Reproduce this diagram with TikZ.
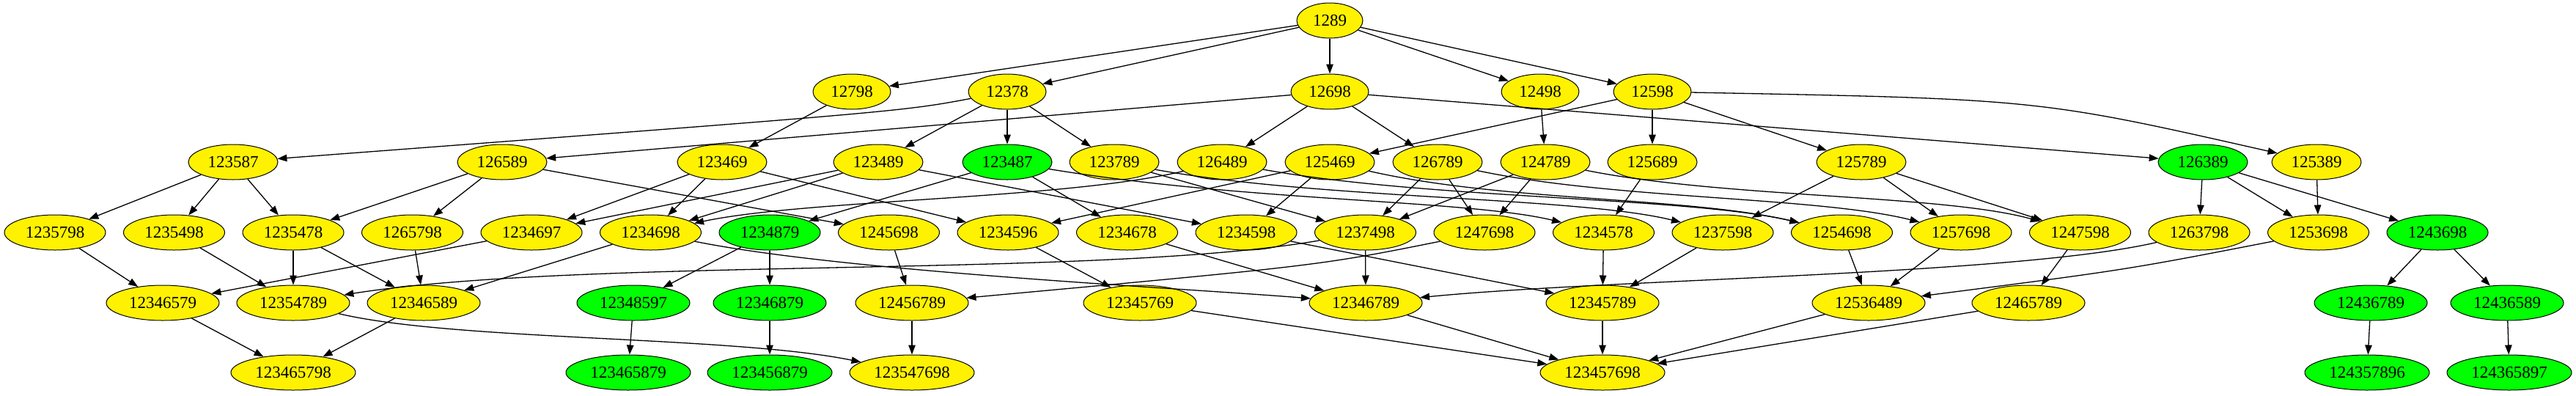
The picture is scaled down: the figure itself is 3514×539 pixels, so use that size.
\documentclass[tikz,border=0pt]{standalone}
\usepackage{fontspec}
\setmainfont{Liberation Serif}
\usetikzlibrary{shapes.geometric,arrows.meta}
\begin{document}
\begin{tikzpicture}[x=1pt,y=1pt,
  nd/.style={ellipse,draw=black,line width=1pt,inner sep=0pt,minimum height=48pt,font=\fontsize{23}{24}\selectfont},
  yl/.style={nd,fill=yellow},
  gr/.style={nd,fill=green},
  wd4/.style={minimum width=90pt},
  wd5/.style={minimum width=106pt},
  wd6/.style={minimum width=122pt},
  wd7/.style={minimum width=138pt},
  wd8/.style={minimum width=154pt},
  wd9/.style={minimum width=170pt},
  edge/.style={draw=black,line width=1.3pt,-{Triangle[length=13pt,width=9.5pt]}}]
\useasboundingbox (0,0) rectangle (3514,-539);
% row 0
\node[yl,wd4] (n1289) at (1814,-28) {1289};
% row 1
\node[yl,wd5] (n12798) at (1162,-125) {12798};
\node[yl,wd5] (n12378) at (1374,-125) {12378};
\node[yl,wd5] (n12698) at (1814,-125) {12698};
\node[yl,wd5] (n12498) at (2101,-125) {12498};
\node[yl,wd5] (n12598) at (2254,-125) {12598};
% row 2
\node[yl,wd6] (n123587) at (318,-221) {123587};
\node[yl,wd6] (n126589) at (685,-221) {126589};
\node[yl,wd6] (n123469) at (985,-221) {123469};
\node[yl,wd6] (n123489) at (1198,-221) {123489};
\node[gr,wd6] (n123487) at (1374,-221) {123487};
\node[yl,wd6] (n123789) at (1520,-221) {123789};
\node[yl,wd6] (n126489) at (1667,-221) {126489};
\node[yl,wd6] (n125469) at (1814,-221) {125469};
\node[yl,wd6] (n126789) at (1961,-221) {126789};
\node[yl,wd6] (n124789) at (2108,-221) {124789};
\node[yl,wd6] (n125689) at (2254,-221) {125689};
\node[yl,wd6] (n125789) at (2539,-221) {125789};
\node[gr,wd6] (n126389) at (3005,-221) {126389};
\node[yl,wd6] (n125389) at (3160,-221) {125389};
% row 3
\node[yl,wd7] (n1235798) at (75,-317) {1235798};
\node[yl,wd7] (n1235498) at (237.5,-317) {1235498};
\node[yl,wd7] (n1235478) at (400,-317) {1235478};
\node[yl,wd7] (n1265798) at (562.5,-317) {1265798};
\node[yl,wd7] (n1234697) at (725,-317) {1234697};
\node[yl,wd7] (n1234698) at (887.5,-317) {1234698};
\node[gr,wd7] (n1234879) at (1050,-317) {1234879};
\node[yl,wd7] (n1245698) at (1212.5,-317) {1245698};
\node[yl,wd7] (n1234596) at (1375,-317) {1234596};
\node[yl,wd7] (n1234678) at (1537.5,-317) {1234678};
\node[yl,wd7] (n1234598) at (1700,-317) {1234598};
\node[yl,wd7] (n1237498) at (1862.5,-317) {1237498};
\node[yl,wd7] (n1247698) at (2025,-317) {1247698};
\node[yl,wd7] (n1234578) at (2187.5,-317) {1234578};
\node[yl,wd7] (n1237598) at (2350,-317) {1237598};
\node[yl,wd7] (n1254698) at (2512.5,-317) {1254698};
\node[yl,wd7] (n1257698) at (2675,-317) {1257698};
\node[yl,wd7] (n1247598) at (2837.5,-317) {1247598};
\node[yl,wd7] (n1263798) at (3000,-317) {1263798};
\node[yl,wd7] (n1253698) at (3162.5,-317) {1253698};
\node[gr,wd7] (n1243698) at (3325,-317) {1243698};
% row 4
\node[yl,wd8] (n12346579) at (222,-413) {12346579};
\node[yl,wd8] (n12354789) at (400,-413) {12354789};
\node[yl,wd8] (n12346589) at (578,-413) {12346589};
\node[gr,wd8] (n12348597) at (864,-413) {12348597};
\node[gr,wd8] (n12346879) at (1050,-413) {12346879};
\node[yl,wd8] (n12456789) at (1244,-413) {12456789};
\node[yl,wd8] (n12345769) at (1555,-413) {12345769};
\node[yl,wd8] (n12346789) at (1863,-413) {12346789};
\node[yl,wd8] (n12345789) at (2186,-413) {12345789};
\node[yl,wd8] (n12536489) at (2549,-413) {12536489};
\node[yl,wd8] (n12465789) at (2767,-413) {12465789};
\node[gr,wd8] (n12436789) at (3234,-413) {12436789};
\node[gr,wd8] (n12436589) at (3420,-413) {12436589};
% row 5
\node[yl,wd9] (n123465798) at (400,-508) {123465798};
\node[gr,wd9] (n123465879) at (857,-508) {123465879};
\node[gr,wd9] (n123456879) at (1050,-508) {123456879};
\node[yl,wd9] (n123547698) at (1244,-508) {123547698};
\node[yl,wd9] (n123457698) at (2186,-508) {123457698};
\node[gr,wd9] (n124357896) at (3229,-508) {124357896};
\node[gr,wd9] (n124365897) at (3423,-508) {124365897};
% edges row 0 -> 1
\foreach \t in {12798,12378,12698,12498,12598} \draw[edge] (n1289) -- (n\t);
% row 1 -> 2
\draw[edge] (n12798) -- (n123469);
\draw[edge] (n12378) .. controls (1230,-152) .. (n123587);
\draw[edge] (n12378) -- (n123489);
\draw[edge] (n12378) -- (n123487);
\draw[edge] (n12378) -- (n123789);
\draw[edge] (n12698) -- (n126589);
\draw[edge] (n12698) -- (n126489);
\draw[edge] (n12698) -- (n126789);
\draw[edge] (n12698) -- (n126389);
\draw[edge] (n12498) -- (n124789);
\draw[edge] (n12598) -- (n125469);
\draw[edge] (n12598) -- (n125689);
\draw[edge] (n12598) -- (n125789);
\draw[edge] (n12598) .. controls (2780,-135) .. (n125389);
% row 2 -> 3
\draw[edge] (n123587) -- (n1235798);
\draw[edge] (n123587) -- (n1235498);
\draw[edge] (n123587) -- (n1235478);
\draw[edge] (n126589) -- (n1235478);
\draw[edge] (n126589) -- (n1265798);
\draw[edge] (n126589) -- (n1245698);
\draw[edge] (n123469) -- (n1234697);
\draw[edge] (n123469) -- (n1234698);
\draw[edge] (n123469) -- (n1234596);
\draw[edge] (n123489) -- (n1234697);
\draw[edge] (n123489) -- (n1234698);
\draw[edge] (n123489) -- (n1234598);
\draw[edge] (n123487) -- (n1234879);
\draw[edge] (n123487) -- (n1234678);
\draw[edge] (n123487) .. controls (1700,-275) and (2000,-272) .. (n1234578);
\draw[edge] (n123789) -- (n1237498);
\draw[edge] (n123789) .. controls (1800,-272) and (2150,-268) .. (n1237598);
\draw[edge] (n126489) .. controls (1450,-272) and (1100,-272) .. (n1234698);
\draw[edge] (n126489) .. controls (1950,-272) and (2300,-268) .. (n1254698);
\draw[edge] (n125469) -- (n1234596);
\draw[edge] (n125469) -- (n1234598);
\draw[edge] (n125469) .. controls (2050,-275) and (2300,-268) .. (n1254698);
\draw[edge] (n126789) -- (n1237498);
\draw[edge] (n126789) -- (n1247698);
\draw[edge] (n126789) .. controls (2200,-272) and (2480,-268) .. (n1257698);
\draw[edge] (n124789) -- (n1237498);
\draw[edge] (n124789) -- (n1247698);
\draw[edge] (n124789) .. controls (2350,-270) and (2650,-265) .. (n1247598);
\draw[edge] (n125689) -- (n1234578);
\draw[edge] (n125789) -- (n1237598);
\draw[edge] (n125789) -- (n1257698);
\draw[edge] (n125789) -- (n1247598);
\draw[edge] (n126389) -- (n1263798);
\draw[edge] (n126389) -- (n1253698);
\draw[edge] (n126389) -- (n1243698);
\draw[edge] (n125389) -- (n1253698);
% row 3 -> 4
\draw[edge] (n1235798) -- (n12346579);
\draw[edge] (n1235498) -- (n12354789);
\draw[edge] (n1235478) -- (n12354789);
\draw[edge] (n1235478) -- (n12346589);
\draw[edge] (n1265798) -- (n12346589);
\draw[edge] (n1234697) -- (n12346579);
\draw[edge] (n1234698) -- (n12346589);
\draw[edge] (n1234698) .. controls (1150,-370) and (1600,-392) .. (n12346789);
\draw[edge] (n1234879) -- (n12348597);
\draw[edge] (n1234879) -- (n12346879);
\draw[edge] (n1245698) -- (n12456789);
\draw[edge] (n1234596) -- (n12345769);
\draw[edge] (n1234678) -- (n12346789);
\draw[edge] (n1234598) -- (n12345789);
\draw[edge] (n1237498) -- (n12346789);
\draw[edge] (n1237498) .. controls (1500,-380) and (800,-350) .. (n12354789);
\draw[edge] (n1247698) .. controls (1800,-362) .. (n12456789);
\draw[edge] (n1234578) -- (n12345789);
\draw[edge] (n1237598) -- (n12345789);
\draw[edge] (n1254698) -- (n12536489);
\draw[edge] (n1257698) -- (n12536489);
\draw[edge] (n1247598) -- (n12465789);
\draw[edge] (n1263798) .. controls (2750,-375) and (2200,-380) .. (n12346789);
\draw[edge] (n1253698) .. controls (2900,-368) .. (n12536489);
\draw[edge] (n1243698) -- (n12436789);
\draw[edge] (n1243698) -- (n12436589);
% row 4 -> 5
\draw[edge] (n12346579) -- (n123465798);
\draw[edge] (n12346589) -- (n123465798);
\draw[edge] (n12354789) .. controls (620,-465) and (1000,-458) .. (n123547698);
\draw[edge] (n12348597) -- (n123465879);
\draw[edge] (n12346879) -- (n123456879);
\draw[edge] (n12456789) -- (n123547698);
\draw[edge] (n12345769) -- (n123457698);
\draw[edge] (n12346789) -- (n123457698);
\draw[edge] (n12345789) -- (n123457698);
\draw[edge] (n12536489) -- (n123457698);
\draw[edge] (n12465789) -- (n123457698);
\draw[edge] (n12436789) -- (n124357896);
\draw[edge] (n12436589) -- (n124365897);
\end{tikzpicture}
\end{document}
